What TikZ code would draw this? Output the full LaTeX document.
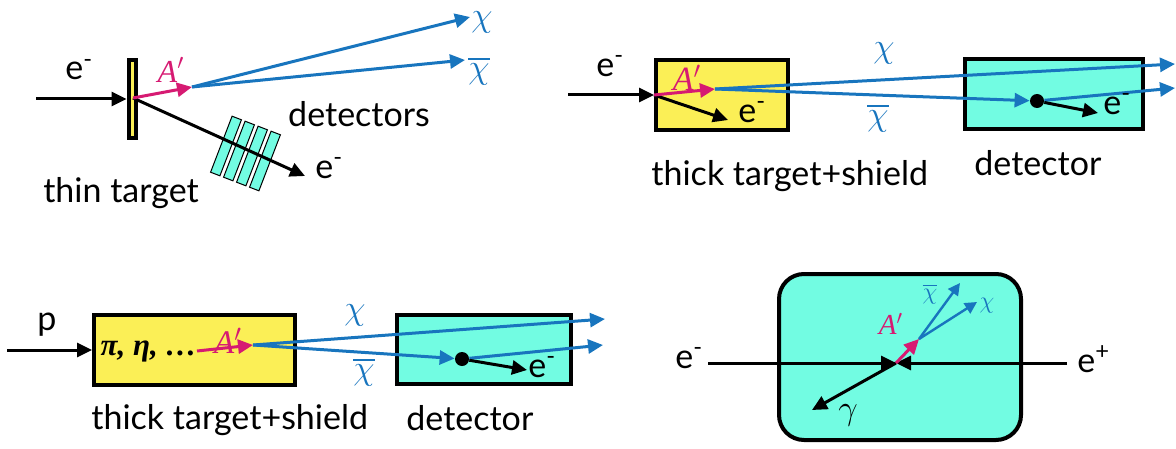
\documentclass[tikz,border=0pt]{standalone}
\usepackage{amsmath,amssymb}
\usepackage{fontspec}
\setmainfont{Lato}
\newfontfamily\lblfont{Liberation Serif}
\usepackage{tikz}
\usetikzlibrary{arrows.meta,positioning}
\usepackage{xcolor}

\definecolor{tgtyellow}{RGB}{251,239,86}
\definecolor{detcyan}{RGB}{114,252,226}
\definecolor{chiblue}{RGB}{24,117,190}
\definecolor{apink}{RGB}{214,26,114}

\newcommand{\aprime}{{\lblfont\itshape A}$'$}

\begin{document}
\begin{tikzpicture}[x=0.5pt,y=-0.5pt,
  txt/.style={font=\fontsize{17}{20}\selectfont,inner sep=0pt},
  mth/.style={font=\fontsize{17}{20}\selectfont,inner sep=0pt},
  beam/.style={-{Triangle[length=7.5pt,width=7pt]},line width=1.5pt},
  dm/.style={beam,color=chiblue},
  ap/.style={beam,color=apink},
  slab/.style={draw,line width=0.5pt,fill=detcyan,minimum width=5pt,minimum height=30pt,inner sep=0pt,rotate=-21},
  tgt/.style={draw,line width=2pt,fill=tgtyellow,inner sep=0pt},
  det/.style={draw,line width=2pt,fill=detcyan,inner sep=0pt},
  hit/.style={circle,fill=black,minimum size=7pt,inner sep=0pt}
]
\useasboundingbox (0,0) rectangle (1176,449);

% thin target
\node[tgt,minimum width=3.5pt,minimum height=39pt] (thin) at (132,99) {};
\foreach \x/\y [count=\i] in {226/146,239/151,252/156,265/161}
  \node[slab] (slab\i) at (\x,\y) {};
\coordinate (ein1) at (36,99);
\coordinate (v1) at (133,98);
\coordinate (ap1) at (192,87);
\coordinate (chi1) at (470,17);
\coordinate (chib1) at (465,60);
\coordinate (eout1) at (305,176);
\draw[beam] (ein1) -- (thin.west);
\draw[beam] (v1) -- (eout1);
\draw[ap] (v1) -- (ap1);
\draw[dm] (ap1) -- (chi1);
\draw[dm] (ap1) -- (chib1);
\node[txt,anchor=base west] (le1) at (65,80) {e\textsuperscript{-}};
\node[txt,anchor=base west] (lo1) at (315,178) {e\textsuperscript{-}};
\node[mth,font=\fontsize{16}{18}\selectfont,text=apink] (lap1) at (171,70) {\aprime};
\node[mth,text=chiblue] (lchi1) at (482,22) {$\chi$};
\node[mth,text=chiblue] (lchib1) at (479,71) {$\overline{\chi}$};
\node[txt] (ldets) at (359,114) {detectors};
\node[txt,below=18.5pt of thin,xshift=-5.5pt] (lthin) {thin target};

% thick target, detector behind
\node[tgt,minimum width=66pt,minimum height=35pt] (thick2) at (722,95) {};
\node[det,minimum width=89pt,minimum height=35pt] (det2) at (1054,94) {};
\coordinate (ein2) at (568,95);
\coordinate (ap2) at (715,89);
\coordinate (eb2) at (728,120);
\node[hit] (hit2) at (1037,101) {};
\coordinate (chi2) at (1175,64);
\coordinate (out2) at (1175,88);
\coordinate (eh2) at (1098,113);
\draw[beam] (ein2) -- (thick2.west);
\draw[beam] (thick2.west) -- (eb2);
\draw[ap] (thick2.west) -- (ap2);
\draw[dm] (ap2) -- (chi2);
\draw[dm] (ap2) -- (hit2);
\draw[dm] (hit2) -- (out2);
\draw[beam] (hit2) -- (eh2);
\node[txt,anchor=base west] (le2) at (596,76) {e\textsuperscript{-}};
\node[txt,anchor=base west] (lb2) at (738,122) {e\textsuperscript{-}};
\node[txt,anchor=base west] (lh2) at (1103,114) {e\textsuperscript{-}};
\node[mth,font=\fontsize{17}{19}\selectfont,text=apink] (lap2) at (687,78) {\aprime};
\node[mth,text=chiblue] (lchi2) at (884,53) {$\chi$};
\node[mth,text=chiblue] (lchib2) at (878,118) {$\overline{\chi}$};
\node[txt,below right=14pt and -1.5pt of thick2.south west] (lthick2) {thick target+shield};
\node[txt,below right=9.5pt and 5.5pt of det2.south west] (ldet2) {detector};

% proton beam dump
\node[tgt,minimum width=100.5pt,minimum height=35pt] (thick3) at (194.5,350) {};
\node[det,minimum width=87pt,minimum height=34.5pt] (det3) at (484,349.5) {};
\coordinate (pin3) at (7,350);
\node[mth,font=\fontsize{15.5}{18}\selectfont\lblfont\bfseries\itshape,anchor=east] (mes3) at (197,351) {π, η, …};
\coordinate (ap3) at (253,345);
\node[hit] (hit3) at (462,359) {};
\coordinate (chi3) at (605,319);
\coordinate (out3) at (603,345);
\coordinate (eh3) at (527,370);
\draw[beam] (pin3) -- (thick3.west);
\draw[ap] (mes3.east) -- (ap3);
\draw[dm] (ap3) -- (chi3);
\draw[dm] (ap3) -- (hit3);
\draw[dm] (hit3) -- (out3);
\draw[beam] (hit3) -- (eh3);
\node[txt,anchor=base west] (lp3) at (37,330) {p};
\node[txt,anchor=base west] (lh3) at (528,377) {e\textsuperscript{-}};
\node[mth,font=\fontsize{16.5}{19}\selectfont,text=apink] (lap3) at (228,341) {\aprime};
\node[mth,text=chiblue] (lchi3) at (355,315) {$\chi$};
\node[mth,text=chiblue] (lchib3) at (364,372) {$\overline{\chi}$};
\node[txt,below right=8.5pt and -0.5pt of thick3.south west] (lthick3) {thick target+shield};
\node[txt,below right=9.5pt and 5.5pt of det3.south west] (ldet3) {detector};

% collider
\node[det,rounded corners=12.5pt,minimum width=121pt,minimum height=83pt] (coll) at (900,357) {};
\coordinate (vtx4) at (896,363);
\coordinate (em4) at (708,363);
\coordinate (ep4) at (1067,363);
\coordinate (g4) at (812,410);
\coordinate (ap4) at (919,339);
\coordinate (chib4) at (960,283);
\coordinate (chi4) at (977,302);
\draw[beam] (em4) -- (vtx4);
\draw[beam] (ep4) -- (vtx4);
\draw[beam] (vtx4) -- (g4);
\draw[ap] (vtx4) -- (ap4);
\draw[dm,line width=1.2pt,-{Triangle[length=6pt,width=6pt]}] (ap4) -- (chib4);
\draw[dm,line width=1.2pt,-{Triangle[length=6pt,width=6pt]}] (ap4) -- (chi4);
\node[txt,anchor=base west] (lem4) at (675,368) {e\textsuperscript{-}};
\node[txt,anchor=base west] (lep4) at (1077,372) {e\textsuperscript{+}};
\node[mth,font=\fontsize{14.5}{17}\selectfont,text=apink] (lap4) at (891,324) {\aprime};
\node[mth,font=\fontsize{11.5}{13}\selectfont,text=chiblue] (lchib4) at (930,294) {$\overline{\chi}$};
\node[mth,font=\fontsize{11.5}{13}\selectfont,text=chiblue] (lchi4) at (987,306) {$\chi$};
\node[mth] (lg4) at (848,415) {$\gamma$};
\end{tikzpicture}
\end{document}
